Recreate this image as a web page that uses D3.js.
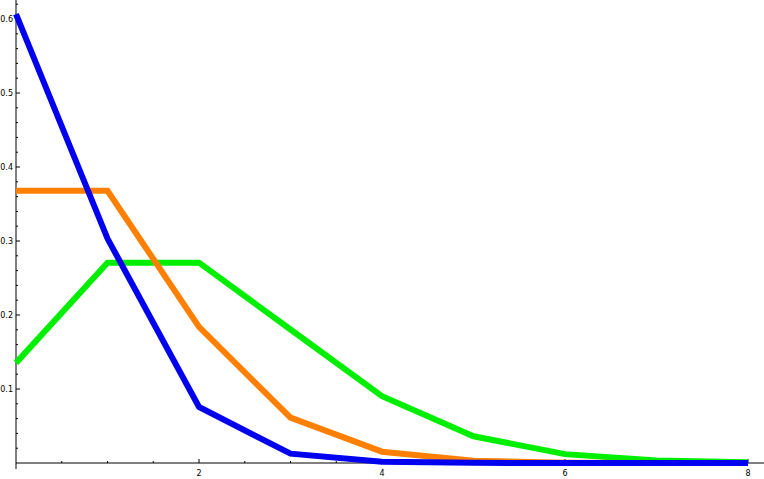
<!DOCTYPE html>
<html>
<head>
<meta charset="UTF-8">
<script src="https://cdnjs.cloudflare.com/ajax/libs/d3/7.8.5/d3.min.js"></script>
<style>body{margin:0;background:#fff}</style>
</head>
<body>
<svg id="c" width="764" height="479"></svg>
<script>
const ks = [0, 1, 2, 3, 4, 5, 6, 7, 8];
const lam05 = [0.6065, 0.3033, 0.0758, 0.0126, 0.0016, 0.0002, 0.00002, 0, 0];
const lam1 = [0.3679, 0.3679, 0.1839, 0.0613, 0.0153, 0.0031, 0.0005, 0.0001, 0.00001];
const lam2 = [0.1353, 0.2707, 0.2707, 0.1804, 0.0902, 0.0361, 0.0120, 0.0034, 0.0009];
const xTicks = [2, 4, 6, 8];
const yTicks = [0.1, 0.2, 0.3, 0.4, 0.5, 0.6];

const svg = d3.select("#c");
const x = d3.scaleLinear().domain([0, 8]).range([16, 748]);
const y = d3.scaleLinear().domain([0, 0.1]).range([463, 389]);

// axes
const g = svg.append("g").attr("font-family", "DejaVu Sans, sans-serif").attr("font-size", 8);
g.append("line").attr("x1", x(0)).attr("x2", 764).attr("y1", y(0)).attr("y2", y(0)).attr("stroke", "#000");
g.append("line").attr("x1", x(0)).attr("x2", x(0)).attr("y1", 0).attr("y2", y(0) + 6).attr("stroke", "#000");
d3.range(0.5, 8.01, 0.5).forEach(v => {
  const major = Number.isInteger(v / 2);
  g.append("line").attr("x1", x(v)).attr("x2", x(v)).attr("y1", y(0)).attr("y2", y(0) - (major ? 4 : 2)).attr("stroke", "#000");
});
d3.range(0.02, 0.621, 0.02).forEach(v => {
  const major = Math.abs(v * 10 - Math.round(v * 10)) < 1e-6;
  g.append("line").attr("x1", x(0)).attr("x2", x(0) + (major ? 4 : 2)).attr("y1", y(v)).attr("y2", y(v)).attr("stroke", "#000");
});
xTicks.forEach(v => g.append("text").attr("x", x(v)).attr("y", y(0) + 13).attr("text-anchor", "middle").text(v));
yTicks.forEach(v => g.append("text").attr("x", x(0) - 3).attr("y", y(v) + 3).attr("text-anchor", "end").text(v));

const line = d3.line().x((d, i) => x(ks[i])).y(d => y(d));
[[lam2, "#00ee00"], [lam1, "#ff8000"], [lam05, "#0000ee"]].forEach(([s, c]) => {
  svg.append("path").attr("d", line(s)).attr("fill", "none").attr("stroke", c)
    .attr("stroke-width", 6).attr("stroke-linejoin", "miter");
});
</script>
</body>
</html>
